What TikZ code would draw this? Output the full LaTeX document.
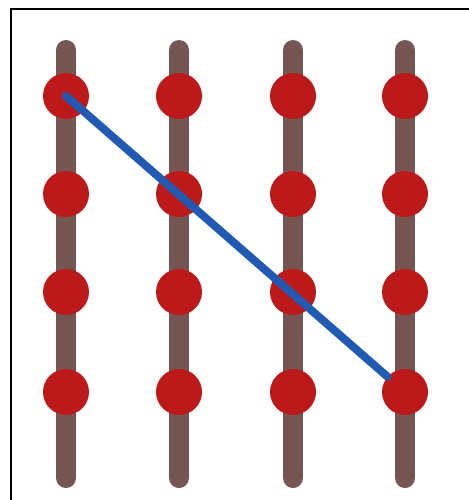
\documentclass[tikz,border=0pt]{standalone}
\definecolor{barbrown}{RGB}{118,86,82}
\definecolor{dotred}{RGB}{188,26,26}
\definecolor{lineblue}{RGB}{32,90,178}
\begin{document}
\begin{tikzpicture}[x=1pt,y=-1pt,
  bar/.style={draw=barbrown,line width=20pt,line cap=round},
  dot/.style={circle,fill=dotred,draw=none,minimum size=46pt,inner sep=0pt},
  diag/.style={draw=lineblue,line width=8pt,line cap=round},
  frameline/.style={draw=black,line width=2.6pt}]
\useasboundingbox (0,0) rectangle (468,500);
\fill[white] (0,0) rectangle (468,500);
\draw[frameline] (11,502) -- (11,9) -- (470,9);
\foreach \i/\x in {1/66,2/179,3/293,4/405}{
  \coordinate (t\i) at (\x,50);
  \coordinate (b\i) at (\x,478);
  \draw[bar] (t\i) -- (b\i);
}
\foreach \i/\x in {1/66,2/179,3/293,4/405}{
  \foreach \j/\y in {1/96,2/194,3/292,4/392}{
    \node[dot] (c\i\j) at (\x,\y) {};
  }
}
\draw[diag] (c11.center) -- (c44);
\end{tikzpicture}
\end{document}
